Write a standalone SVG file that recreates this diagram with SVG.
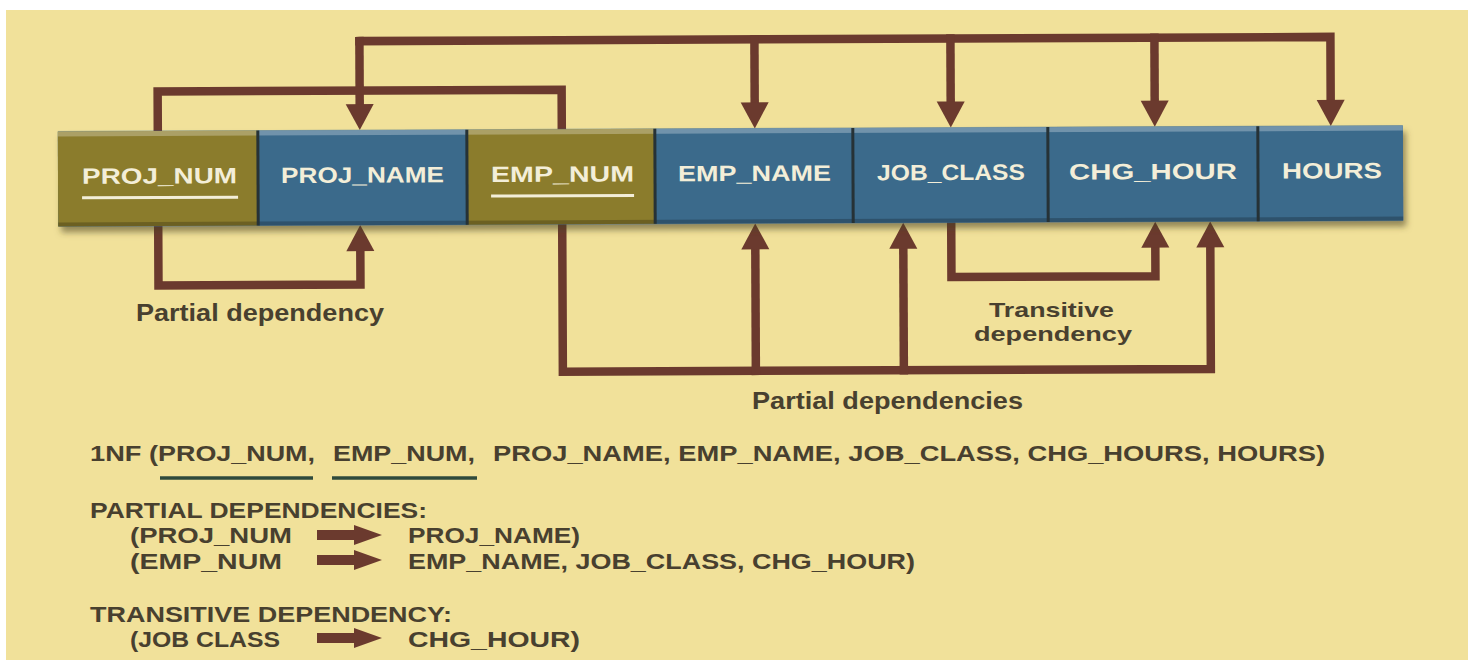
<svg xmlns="http://www.w3.org/2000/svg" width="1473" height="660" viewBox="0 0 1473 660">
<defs>
<style>
.cn{fill:none;stroke:#6b3a2e;stroke-width:8.5;stroke-linecap:square;stroke-linejoin:miter}
.olive{fill:#8b7c2c}
.blue{fill:#3b6a8b}
.nl{font-family:"Liberation Sans",Arial,sans-serif;font-weight:bold;font-size:22px;fill:#f3eed8}
.lb{font-family:"Liberation Sans",Arial,sans-serif;font-weight:bold;font-size:23px;fill:#48402f}
.lt{font-family:"Liberation Sans",Arial,sans-serif;font-weight:bold;font-size:21px;fill:#48402f}
.bt{font-family:"Liberation Sans",Arial,sans-serif;font-weight:bold;font-size:21.5px;fill:#48402f}
.ul{stroke:#f3eed8;stroke-width:3}
.ful{stroke:#2f4a3c;stroke-width:3.5}
.fat{fill:#6b3a2e}
.hl{fill:#ffffff;opacity:0.28}
.dk{fill:#000000;opacity:0.22}
.sep{stroke:#263236;stroke-width:3}
</style>
<marker id="ah" markerUnits="userSpaceOnUse" markerWidth="26" markerHeight="28" refX="0" refY="14" orient="auto" overflow="visible">
<path d="M0,0 L26,14 L0,28 z" fill="#6b3a2e"/>
</marker>
<filter id="sh" x="-5%" y="-20%" width="110%" height="150%">
<feDropShadow dx="3" dy="6" stdDeviation="3" flood-color="#4a4020" flood-opacity="0.55"/>
</filter>
</defs>
<rect x="0" y="0" width="1473" height="660" fill="#ffffff"/>
<rect x="6" y="10" width="1462" height="650" fill="#f1e19a"/>
<g transform="rotate(-0.25 730 175)">
<g id="connectors">
<path class="cn" d="M360,39.5 H1331 V102.5" marker-end="url(#ah)"/>
<path class="cn" d="M360,39.5 V102.5" marker-end="url(#ah)"/>
<path class="cn" d="M755,39.5 V102.5" marker-end="url(#ah)"/>
<path class="cn" d="M951,39.5 V102.5" marker-end="url(#ah)"/>
<path class="cn" d="M1155,39.5 V102.5" marker-end="url(#ah)"/>
<path class="cn" d="M158,130 V89 H562 V130"/>
<path class="cn" d="M158,222 V283 H360 V249.5" marker-end="url(#ah)"/>
<path class="cn" d="M562,222 V371 H1210 V249.5" marker-end="url(#ah)"/>
<path class="cn" d="M755,371 V249.5" marker-end="url(#ah)"/>
<path class="cn" d="M903,371 V249.5" marker-end="url(#ah)"/>
<path class="cn" d="M951,222 V278 H1155 V249.5" marker-end="url(#ah)"/>
</g>
<rect x="58" y="128.5" width="1345" height="95" fill="#3b6a8b" filter="url(#sh)"/>
<g id="node-proj_num">
<rect class="olive" x="58" y="128.5" width="200" height="95"/>
<text class="nl" x="82" y="181" textLength="155" lengthAdjust="spacingAndGlyphs">PROJ_NUM</text>
<line class="ul" x1="82" y1="195" x2="238" y2="195"/>
</g>
<g id="node-proj_name">
<rect class="blue" x="258" y="128.5" width="209" height="95"/>
<text class="nl" x="281" y="181" textLength="163" lengthAdjust="spacingAndGlyphs">PROJ_NAME</text>
</g>
<g id="node-emp_num">
<rect class="olive" x="467" y="128.5" width="188" height="95"/>
<text class="nl" x="491" y="181" textLength="143" lengthAdjust="spacingAndGlyphs">EMP_NUM</text>
<line class="ul" x1="491" y1="195" x2="634" y2="195"/>
</g>
<g id="node-emp_name">
<rect class="blue" x="655" y="128.5" width="198" height="95"/>
<text class="nl" x="678" y="181" textLength="153" lengthAdjust="spacingAndGlyphs">EMP_NAME</text>
</g>
<g id="node-job_class">
<rect class="blue" x="853" y="128.5" width="195" height="95"/>
<text class="nl" x="877" y="181" textLength="148" lengthAdjust="spacingAndGlyphs">JOB_CLASS</text>
</g>
<g id="node-chg_hour">
<rect class="blue" x="1048" y="128.5" width="210" height="95"/>
<text class="nl" x="1069" y="181" textLength="168" lengthAdjust="spacingAndGlyphs">CHG_HOUR</text>
</g>
<g id="node-hours">
<rect class="blue" x="1258" y="128.5" width="145" height="95"/>
<text class="nl" x="1282" y="181" textLength="100" lengthAdjust="spacingAndGlyphs">HOURS</text>
</g>
<g id="bevel">
<rect class="hl" x="58" y="128.5" width="1345" height="5"/>
<rect class="dk" x="58" y="219.5" width="1345" height="4"/>
<line class="sep" x1="258" y1="128.5" x2="258" y2="223.5"/>
<line class="sep" x1="467" y1="128.5" x2="467" y2="223.5"/>
<line class="sep" x1="655" y1="128.5" x2="655" y2="223.5"/>
<line class="sep" x1="853" y1="128.5" x2="853" y2="223.5"/>
<line class="sep" x1="1048" y1="128.5" x2="1048" y2="223.5"/>
<line class="sep" x1="1258" y1="128.5" x2="1258" y2="223.5"/>
</g>
</g>
<g id="labels">
<text class="lb" x="136" y="321" textLength="248" lengthAdjust="spacingAndGlyphs">Partial dependency</text>
<text class="lt" x="989" y="317" textLength="125" lengthAdjust="spacingAndGlyphs">Transitive</text>
<text class="lt" x="974" y="341" textLength="158" lengthAdjust="spacingAndGlyphs">dependency</text>
<text class="lb" x="752" y="409" textLength="271" lengthAdjust="spacingAndGlyphs">Partial dependencies</text>
</g>
<g id="notation">
<text class="bt" y="461"><tspan x="90" textLength="68" lengthAdjust="spacingAndGlyphs">1NF (</tspan><tspan x="158" textLength="157" lengthAdjust="spacingAndGlyphs">PROJ_NUM,</tspan> <tspan x="333" textLength="142" lengthAdjust="spacingAndGlyphs">EMP_NUM,</tspan> <tspan x="493" textLength="832" lengthAdjust="spacingAndGlyphs">PROJ_NAME, EMP_NAME, JOB_CLASS, CHG_HOURS, HOURS)</tspan></text>
<line class="ful" x1="160" y1="478" x2="313" y2="478"/>
<line class="ful" x1="332" y1="478" x2="477" y2="478"/>
<text class="bt" x="90" y="518" textLength="337" lengthAdjust="spacingAndGlyphs">PARTIAL DEPENDENCIES:</text>
<text class="bt" x="130" y="543" textLength="162" lengthAdjust="spacingAndGlyphs">(PROJ_NUM</text>
<path class="fat" d="M317,530 H354 V525 L382,535 L354,545 V540 H317 z"/>
<text class="bt" x="408" y="543" textLength="172" lengthAdjust="spacingAndGlyphs">PROJ_NAME)</text>
<text class="bt" x="130" y="569" textLength="152" lengthAdjust="spacingAndGlyphs">(EMP_NUM</text>
<path class="fat" d="M317,555 H354 V550 L382,560 L354,570 V565 H317 z"/>
<text class="bt" x="408" y="569" textLength="507" lengthAdjust="spacingAndGlyphs">EMP_NAME, JOB_CLASS, CHG_HOUR)</text>
<text class="bt" x="90" y="622" textLength="362" lengthAdjust="spacingAndGlyphs">TRANSITIVE DEPENDENCY:</text>
<text class="bt" x="130" y="647" textLength="150" lengthAdjust="spacingAndGlyphs">(JOB CLASS</text>
<path class="fat" d="M317,633 H354 V628 L382,638 L354,648 V643 H317 z"/>
<text class="bt" x="408" y="647" textLength="172" lengthAdjust="spacingAndGlyphs">CHG_HOUR)</text>
</g>
</svg>
